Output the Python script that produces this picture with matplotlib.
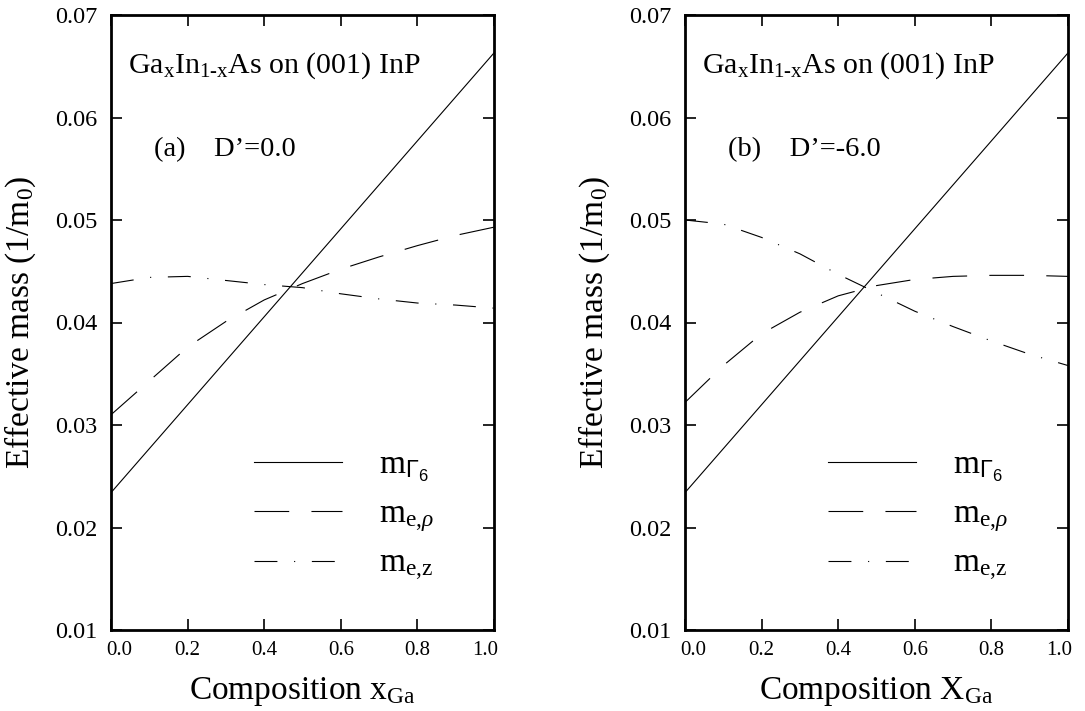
import matplotlib
matplotlib.use("Agg")
import matplotlib.pyplot as plt
from matplotlib.transforms import ScaledTranslation

plt.rcParams['font.family'] = ['Liberation Serif', 'DejaVu Serif']
plt.rcParams['mathtext.fontset'] = 'custom'
plt.rcParams['mathtext.rm'] = 'Liberation Serif'
plt.rcParams['mathtext.it'] = 'Liberation Serif:italic'
plt.rcParams['mathtext.sf'] = 'Liberation Sans'
plt.rcParams['lines.scale_dashes'] = False

# composition grid
x_ga = [0.0, 0.1, 0.2, 0.3, 0.4, 0.5, 0.6, 0.7, 0.8, 0.9, 1.0]

# m_Gamma6 is a straight line (same in both panels)
x_end = [0.0, 1.0]
m_gamma6 = [0.0234, 0.0663]

# (a) D'=0.0
m_rho_a = [0.0310, 0.0343, 0.0376, 0.0401, 0.0422, 0.0438, 0.0452, 0.0464, 0.0475, 0.0485, 0.0493]
m_z_a = [0.0438, 0.0444, 0.0445, 0.0441, 0.0437, 0.0434, 0.0428, 0.0423, 0.0419, 0.0417, 0.0414]

# (b) D'=-6.0
m_rho_b = [0.0322, 0.0358, 0.0389, 0.0410, 0.0426, 0.0436, 0.0442, 0.0445, 0.0446, 0.0446, 0.0445]
m_z_b = [0.0500, 0.0496, 0.0483, 0.0467, 0.0447, 0.0429, 0.0411, 0.0396, 0.0382, 0.0369, 0.0358]

panels = [
    ("(a)    D\u2019=0.0", m_rho_a, m_z_a, "Composition x$_{\\mathrm{Ga}}$"),
    ("(b)    D\u2019=-6.0", m_rho_b, m_z_b, "Composition X$_{\\mathrm{Ga}}$"),
]

labels = ["m$_{\\mathsf{\\Gamma}_{\\mathsf{6}}}$", "m$_{\\mathrm{e{,}}\\rho}$", "m$_{\\mathrm{e{,}z}}$"]

fig = plt.figure(figsize=(10.85, 7.11), dpi=100)
lefts = [111 / 1085, 685 / 1085]

for left, (tag, m_rho, m_z, xlab) in zip(lefts, panels):
    ax = fig.add_axes([left, 1 - 630 / 711, 383 / 1085, 615 / 711])
    ax.plot(x_end, m_gamma6, color='black', lw=0.8, label=labels[0])
    ax.plot(x_ga, m_rho, color='black', lw=0.8, dashes=(25, 16), label=labels[1])
    ax.plot(x_ga, m_z, color='black', lw=0.8, dashes=(16.5, 12, 0.8, 12), label=labels[2])

    ax.set_xlim(0, 1)
    ax.set_ylim(0.01, 0.07)
    ax.set_xticks([0.0, 0.2, 0.4, 0.6, 0.8, 1.0])
    ax.set_xticklabels(["0.0", "0.2", "0.4", "0.6", "0.8", "1.0"])
    ax.set_yticks([0.01, 0.02, 0.03, 0.04, 0.05, 0.06, 0.07])
    ax.set_yticklabels(["0.01", "0.02", "0.03", "0.04", "0.05", "0.06", "0.07"])
    ax.tick_params(direction='in', top=True, right=True, length=8, width=1.2)
    ax.tick_params(axis='x', labelsize=15, pad=8)
    ax.tick_params(axis='y', labelsize=17.5, pad=10)
    for s in ax.spines.values():
        s.set_linewidth(2)

    # nudge end labels inward like the original
    ticks = ax.xaxis.get_major_ticks()
    ticks[0].label1.set_transform(ticks[0].label1.get_transform() + ScaledTranslation(0.08, 0, fig.dpi_scale_trans))
    ticks[-1].label1.set_transform(ticks[-1].label1.get_transform() + ScaledTranslation(-0.09, 0, fig.dpi_scale_trans))

    ax.set_xlabel(xlab, fontsize=24)
    ax.xaxis.set_label_coords(0.5, -0.112)
    ax.xaxis.label.set_va('baseline')
    ax.set_ylabel("Effective mass (1/m$_{\\mathrm{0}}$)", fontsize=24)
    ax.yaxis.set_label_coords(-0.19, 0.5)

    ax.text(0.045, 0.906, "Ga$_{\\mathrm{x}}$In$_{\\mathrm{1\u2010x}}$As on (001) InP",
            transform=ax.transAxes, fontsize=21.5, va='baseline', ha='left')
    ax.text(0.113, 0.770, tag, transform=ax.transAxes, fontsize=20.5, va='baseline', ha='left')

    ax.legend(loc='center left', bbox_to_anchor=(0.373, 0.184), frameon=False, fontsize=24,
              handlelength=2.64, handletextpad=1.1, labelspacing=0.45, borderpad=0, borderaxespad=0)

fig.savefig("out.png", dpi=100)
